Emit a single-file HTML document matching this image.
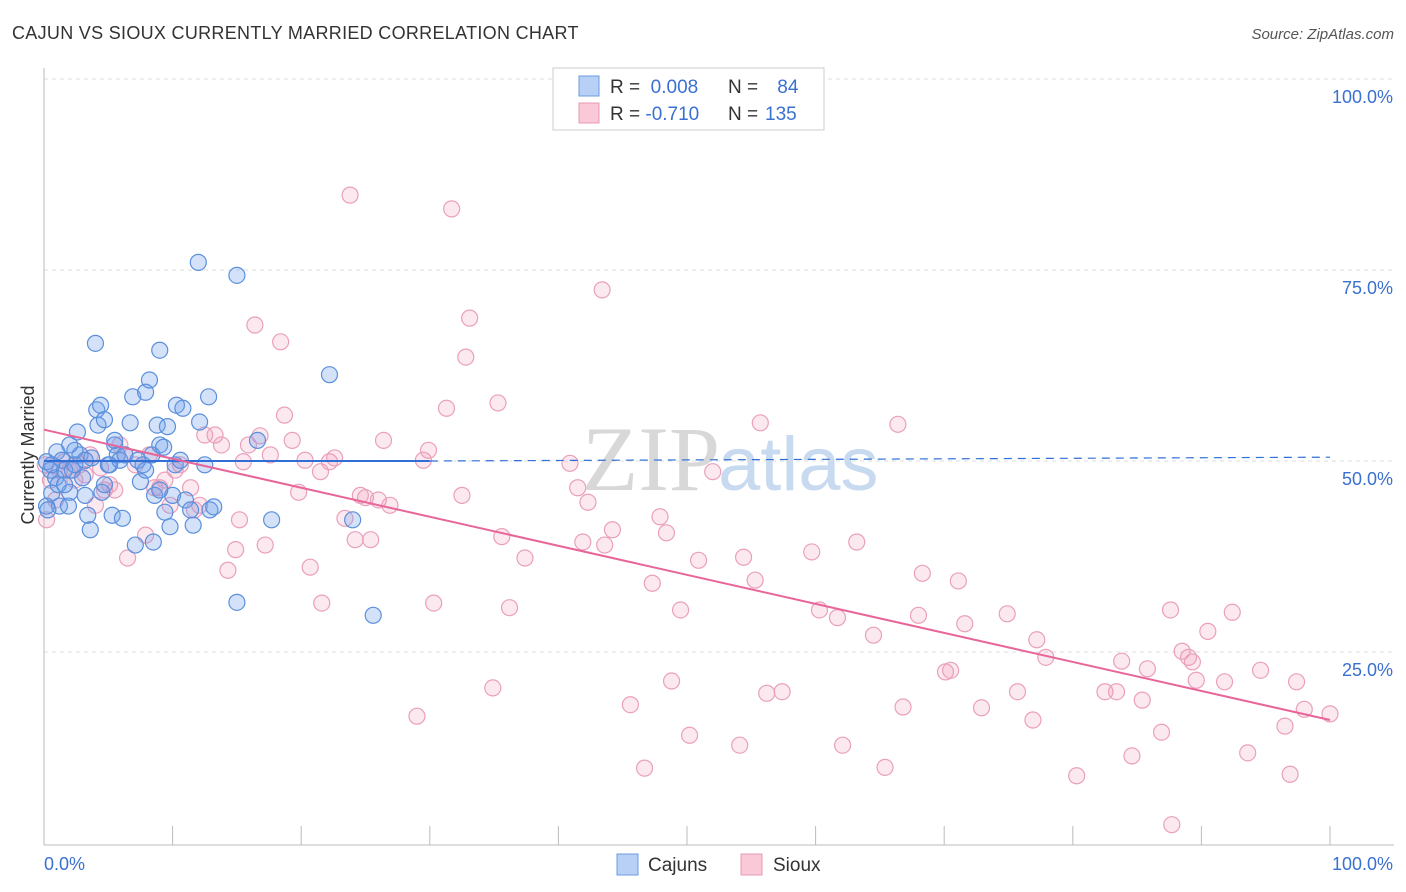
<!DOCTYPE html>
<html><head><meta charset="utf-8"><style>
body{margin:0;background:#fff;font-family:"Liberation Sans",sans-serif;}
svg{display:block}
</style></head><body>
<svg id="chart" width="1406" height="892">
<text x="12" y="39" font-size="18" fill="#333" letter-spacing="0.3">CAJUN VS SIOUX CURRENTLY MARRIED CORRELATION CHART</text>
<text x="1394" y="39" font-size="15" fill="#555" font-style="italic" text-anchor="end">Source: ZipAtlas.com</text>
<text x="720" y="490" font-size="92" fill="#d8d8d8" text-anchor="end" font-family="Liberation Serif">ZIP</text>
<text x="718" y="490" font-size="76" fill="#c8daf0">atlas</text>
<g id="grid"></g>
<g id="axes"></g>
<g id="pts"></g>
<g id="trend"></g>
<text x="34" y="455" font-size="18" fill="#333" text-anchor="middle" transform="rotate(-90 34 455)">Currently Married</text>
<g>
<rect x="553" y="68" width="271" height="62" fill="#fff" stroke="#ccc"/>
<rect x="579" y="76" width="20" height="20" fill="#b8d0f5" stroke="#6a9be0"/>
<rect x="579" y="103" width="20" height="20" fill="#f9c9d8" stroke="#e899b5"/>
<text x="610" y="93" font-size="19" fill="#333">R = <tspan fill="#3a70d0">&#160;0.008</tspan><tspan x="728">N = </tspan><tspan fill="#3a70d0" x="772">&#160;84</tspan></text>
<text x="610" y="120" font-size="19" fill="#333">R = <tspan fill="#3a70d0">-0.710</tspan><tspan x="728">N = </tspan><tspan fill="#3a70d0" x="765">135</tspan></text>
</g>
<g>
<rect x="617" y="854" width="21" height="21" fill="#b8d0f5" stroke="#6a9be0"/>
<text x="648" y="871" font-size="19" fill="#333">Cajuns</text>
<rect x="741" y="854" width="21" height="21" fill="#f9c9d8" stroke="#e899b5"/>
<text x="773" y="871" font-size="19" fill="#333">Sioux</text>
</g>
</svg>
<script>
const yTicks=[25,50,75,100];
const yTickLabels=["25.0%","50.0%","75.0%","100.0%"];
const xTicks=[0,10,20,30,40,50,60,70,80,90,100];
const cajunX=[0.2,0.5,0.6,0.9,1.0,1.2,1.4,1.6,1.9,2.0,2.2,2.4,2.6,2.8,3.0,3.2,3.4,3.6,3.7,4.0,4.1,4.2,4.4,4.5,4.7,5.0,5.1,5.3,5.5,5.7,5.9,6.1,6.3,6.7,6.9,7.1,7.3,7.5,7.7,7.9,8.2,8.4,8.5,8.6,8.8,9.0,9.0,9.3,9.4,9.6,9.8,10.0,10.2,10.3,10.6,10.8,11.0,11.4,11.6,12.0,12.1,12.5,12.8,12.9,13.2,15.0,15.0,16.6,17.7,22.2,24.0,25.6,0.2,0.3,0.6,1.1,1.6,2.0,2.4,3.2,4.7,5.5,7.9,9.0];
const cajunY=[49.9,48.8,45.8,47.8,51.2,44.1,50.1,48.8,44.1,45.9,48.8,51.4,53.8,50.8,47.8,45.5,42.9,41.0,50.4,65.4,56.7,54.7,57.3,45.9,55.4,49.5,49.5,42.9,52.1,50.8,50.1,42.5,50.8,55.0,58.4,39.0,50.1,47.3,49.5,59.0,60.6,50.8,39.4,45.5,54.7,64.5,52.1,51.8,43.3,54.5,41.4,45.5,49.5,57.3,50.1,56.9,44.9,43.6,41.6,76.0,55.1,49.5,58.4,43.6,44.0,74.3,31.5,52.7,42.3,61.3,42.3,29.8,44.1,43.6,49.5,46.9,46.9,52.1,49.5,50.1,46.9,52.7,48.8,46.2];
const siouxX=[0.1,0.2,0.5,0.9,1.2,1.6,2.0,2.4,2.8,3.2,3.6,4.0,4.4,4.7,5.1,5.5,5.9,6.3,6.5,7.1,7.9,8.2,8.6,9.0,9.4,9.8,10.2,10.6,11.4,11.7,12.1,12.5,13.3,13.8,14.3,14.9,15.2,15.5,15.9,16.4,16.8,17.2,17.6,18.4,18.7,19.3,19.8,20.3,20.7,21.5,21.6,22.2,22.6,23.4,23.8,24.2,24.6,25.0,25.4,26.0,26.4,26.9,29.0,29.5,29.9,30.3,31.3,31.7,32.5,32.8,33.1,34.9,35.3,35.6,36.2,37.4,40.9,41.5,41.9,42.3,43.4,43.6,44.2,45.6,46.7,47.3,47.9,48.4,48.8,49.5,50.2,50.9,52.0,54.1,54.4,55.3,55.7,56.2,57.4,59.7,60.3,61.7,62.1,63.2,64.5,65.4,66.4,66.8,68.0,68.3,70.1,70.5,71.1,71.6,72.9,74.9,75.7,76.9,77.2,77.9,80.3,82.5,83.4,83.8,84.6,85.4,85.8,86.9,87.6,87.7,88.5,89.0,89.3,89.6,90.5,91.8,92.4,93.6,94.6,96.5,96.9,97.4,98.0,100.0];
const siouxY=[49.5,42.3,47.5,44.9,48.8,49.9,48.8,47.5,49.5,48.2,50.8,44.2,49.1,46.2,46.9,46.2,52.1,50.8,37.3,49.5,40.3,50.8,46.5,46.5,47.5,44.2,48.8,49.5,46.5,43.6,44.2,53.4,53.4,52.1,35.7,38.4,42.3,49.9,52.1,67.8,53.3,39.0,50.8,65.6,56.0,52.7,45.9,50.1,36.1,48.6,31.4,49.9,50.4,42.5,84.8,39.7,45.5,45.2,39.7,44.9,52.7,44.2,16.6,50.1,51.4,31.4,56.9,83.0,45.5,63.6,68.7,20.3,57.6,40.1,30.8,37.3,49.7,46.5,39.4,44.6,72.4,39.0,41.0,18.1,9.8,34.0,42.7,40.6,21.2,30.5,14.1,37.0,48.6,12.8,37.4,34.4,55.0,19.6,19.8,38.1,30.5,29.5,12.8,39.4,27.2,9.9,54.8,17.8,29.8,35.3,22.4,22.6,34.3,28.7,17.7,30.0,19.8,16.1,26.6,24.3,8.8,19.8,19.8,23.8,11.4,18.7,22.8,14.5,30.5,2.4,25.1,24.3,23.7,21.3,27.7,21.1,30.2,11.8,22.6,15.3,9.0,21.1,17.5,16.9];
const cajunTrend=[0,50.0,30,50.0,100,50.5];
const siouxTrend=[0,54.1,100,16.1];

const NS="http://www.w3.org/2000/svg";
const X=v=>44+v*12.86;
const Y=v=>843-v*7.64;
function mk(tag,attrs,parent){const e=document.createElementNS(NS,tag);for(const k in attrs)e.setAttribute(k,attrs[k]);document.getElementById(parent).appendChild(e);return e;}
yTicks.forEach((t,i)=>{
  const g=mk('line',{x1:44,x2:1394,y1:Y(t),y2:Y(t),stroke:'#ddd','stroke-dasharray':'4,4'},'grid');
  
  
  const l=mk('text',{x:1393,y:Y(t)+24,'font-size':18,fill:'#3a70d0','text-anchor':'end'},'grid');
  l.textContent=yTickLabels[i];
  
  
});
const ax=mk('line',{x1:44,x2:44,y1:68,y2:845,stroke:'#bbb'},'axes');


const bx=mk('line',{x1:44,x2:1394,y1:845,y2:845,stroke:'#bbb'},'axes');


xTicks.forEach(t=>{
  const k=mk('line',{x1:X(t),x2:X(t),y1:826,y2:845,stroke:'#bbb'},'axes');
  
  
});
const x0=mk('text',{x:44,y:870,'font-size':18,fill:'#3a70d0'},'axes');x0.textContent='0.0%';


const x1=mk('text',{x:1393,y:870,'font-size':18,fill:'#3a70d0','text-anchor':'end'},'axes');x1.textContent='100.0%';


siouxX.forEach((v,i)=>{
  const c=mk('circle',{cx:X(v),cy:Y(siouxY[i]),r:8,fill:'rgba(240,150,180,0.22)',stroke:'#eaa0bb','stroke-width':1.2},'pts');
  
  
});
cajunX.forEach((v,i)=>{
  const c=mk('circle',{cx:X(v),cy:Y(cajunY[i]),r:8,fill:'rgba(110,160,235,0.3)',stroke:'#5b8fdc','stroke-width':1.2},'pts');
  
  
});
const t1=mk('line',{x1:X(cajunTrend[0]),y1:Y(cajunTrend[1]),x2:X(cajunTrend[2]),y2:Y(cajunTrend[3]),stroke:'#2f6fd6','stroke-width':2},'trend');


const t2=mk('line',{x1:X(cajunTrend[2]),y1:Y(cajunTrend[3]),x2:X(cajunTrend[4]),y2:Y(cajunTrend[5]),stroke:'#2f6fd6','stroke-width':1.2,'stroke-dasharray':'8,6'},'trend');


const t3=mk('line',{x1:X(siouxTrend[0]),y1:Y(siouxTrend[1]),x2:X(siouxTrend[2]),y2:Y(siouxTrend[3]),stroke:'#e8659a','stroke-width':2},'trend');


</script>
</body></html>
